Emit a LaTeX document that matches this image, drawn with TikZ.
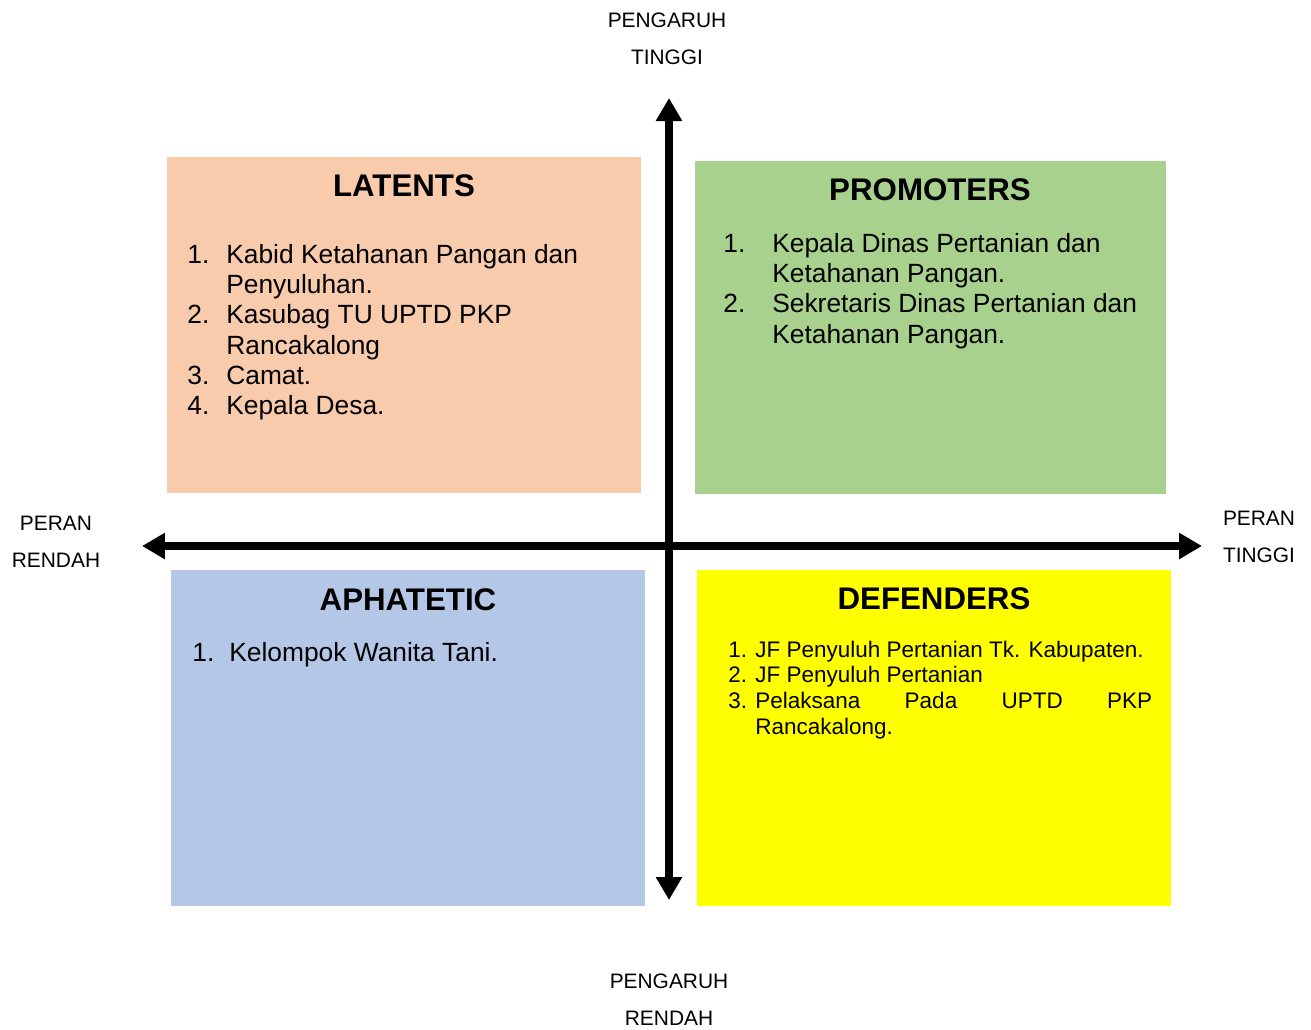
\documentclass[tikz,border=0pt]{standalone}
\usepackage{fontspec}
\setmainfont{Liberation Sans}
\usetikzlibrary{arrows.meta,positioning,fit}
\definecolor{latentcol}{HTML}{F8CBAD}
\definecolor{promotercol}{HTML}{A9D18E}
\definecolor{aphateticcol}{HTML}{B4C7E7}
\definecolor{defendercol}{HTML}{FFFF00}
\newcommand{\listfont}{\fontsize{15}{17.3}\selectfont}
\newcommand{\smalllistfont}{\fontsize{12.8}{14.7}\selectfont}

\begin{document}
\begin{tikzpicture}[x=0.02cm, y=-0.02cm,
  quad/.style={rectangle, inner sep=0pt, draw=none},
  title/.style={anchor=base, inner sep=0pt, font=\fontsize{17.8}{20}\selectfont\bfseries},
  item list/.style={anchor=base west, inner sep=0pt, font=\listfont},
  axis label/.style={anchor=north, inner sep=0pt, align=center, font=\fontsize{11.9}{21}\selectfont},
  axis/.style={line width=4.5pt, {Triangle[length=0.46cm,width=0.5cm]}-{Triangle[length=0.46cm,width=0.5cm]}}]
\useasboundingbox (0,0) rectangle (1311,1029);
% quadrants
\node[quad, fill=latentcol, fit={(167,157) (641,493)}] (latents) {};
\node[quad, fill=promotercol, fit={(695,161) (1166,494)}] (promoters) {};
\node[quad, fill=aphateticcol, fit={(171,570) (645,906)}] (aphatetic) {};
\node[quad, fill=defendercol, fit={(697,570) (1171,906)}] (defenders) {};
% titles
\node[title] (tlatents) at (404,196) {LATENTS};
\node[title] (tpromoters) at (930,200) {PROMOTERS};
\node[title] (taphatetic) at (408,610) {APHATETIC};
\node[title] (tdefenders) at (934,609) {DEFENDERS};
% lists
\node[item list] (llatents) at (187,263) {\begin{tabular}[t]{@{}p{0.78cm}@{}l@{}}
1. & Kabid Ketahanan Pangan dan\\
   & Penyuluhan.\\
2. & Kasubag TU UPTD PKP\\
   & Rancakalong\\
3. & Camat.\\
4. & Kepala Desa.
\end{tabular}};
\node[item list] (lpromoters) at (723,252) {\begin{tabular}[t]{@{}p{0.98cm}@{}l@{}}
1. & Kepala Dinas Pertanian dan\\
   & Ketahanan Pangan.\\
2. & Sekretaris Dinas Pertanian dan\\
   & Ketahanan Pangan.
\end{tabular}};
\node[item list] (laphatetic) at (192,661) {\begin{tabular}[t]{@{}p{0.74cm}@{}l@{}}
1. & Kelompok Wanita Tani.
\end{tabular}};
\node[item list, font=\smalllistfont] (ldefenders) at (728,657) {\begin{tabular}[t]{@{}p{0.54cm}@{}l@{}}
1. & JF Penyuluh Pertanian Tk. Kabupaten.\\
2. & JF Penyuluh Pertanian\\
3. & \makebox[7.94cm][s]{Pelaksana Pada UPTD PKP}\\
   & Rancakalong.
\end{tabular}};
% axes
\coordinate (pengaruhtinggi) at (669,98);
\coordinate (pengaruhrendah) at (669,900);
\coordinate (peranrendah) at (142,546);
\coordinate (perantinggi) at (1202,546);
\draw[axis] (peranrendah) -- (perantinggi);
\draw[axis] (pengaruhrendah) -- (pengaruhtinggi);
\node[axis label] (lblpt) at (667,13) {PENGARUH\\TINGGI};
\node[axis label] (lblpr) at (669,974) {PENGARUH\\RENDAH};
\node[axis label] (lblrr) at (56,516) {PERAN\\RENDAH};
\node[axis label] (lblrt) at (1259,511) {PERAN\\TINGGI};
\end{tikzpicture}
\end{document}
